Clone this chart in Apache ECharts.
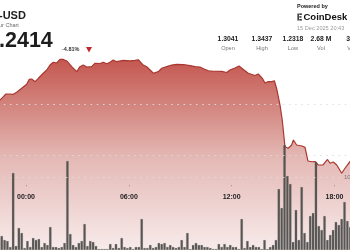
<!DOCTYPE html>
<html>
<head>
<meta charset="utf-8">
<script src="https://cdn.jsdelivr.net/npm/echarts@6/dist/echarts.min.js"></script>
<style>html,body{margin:0;padding:0;background:#fff;}#c{width:350px;height:250px;}</style>
</head>
<body>
<div id="c"></div>
<script>
// ---- data ----
// price line: time in hours since 00:00 (negative = previous day), price in USD
const priceTimes = [-1.63,-1.52,-1.32,-1.17,-0.97,-0.74,-0.54,-0.25,0.04,0.19,0.33,0.53,0.72,1.01,1.21,1.40,1.59,1.79,1.98,2.18,2.38,2.67,2.96,3.15,3.34,3.54,3.83,4.03,4.32,4.51,4.71,4.90,5.09,5.29,5.68,6.07,6.36,6.55,6.65,6.84,7.04,7.24,7.43,7.53,7.72,7.92,8.21,8.50,8.79,9.18,9.57,9.86,10.15,10.39,10.64,10.93,11.42,11.71,11.90,12.19,12.43,12.68,12.97,13.36,13.55,13.79,13.94,14.14,14.34,14.49,14.63,14.82,14.95,15.11,15.30,15.50,15.60,15.79,16.09,16.28,16.45,16.69,16.86,17.05,17.33,17.59,17.74,17.93,18.13,18.42,18.61,18.90,19.08];
const priceValues = [1.3020,1.3023,1.3072,1.3098,1.3098,1.3095,1.3115,1.3154,1.3193,1.3242,1.3245,1.3219,1.3252,1.3301,1.3333,1.3382,1.3409,1.3402,1.3437,1.3437,1.3422,1.3366,1.3317,1.3366,1.3382,1.3363,1.3366,1.3399,1.3397,1.3409,1.3395,1.3409,1.3431,1.3415,1.3428,1.3422,1.3428,1.3434,1.3415,1.3382,1.3366,1.3333,1.3301,1.3284,1.3317,1.3350,1.3366,1.3382,1.3389,1.3387,1.3377,1.3366,1.3363,1.3343,1.3326,1.3321,1.3319,1.3309,1.3333,1.3353,1.3373,1.3338,1.3301,1.3279,1.3294,1.3252,1.3206,1.3219,1.3219,1.3228,1.3147,1.2990,1.2843,1.2581,1.2566,1.2598,1.2647,1.2598,1.2588,1.2575,1.2441,1.2434,1.2436,1.2402,1.2402,1.2456,1.2419,1.2431,1.2402,1.2321,1.2370,1.2434,1.2480];
// volume bars: 10-minute buckets, first bucket centred at -1h35m
const volFirstBucketHour = -1.5833;
const volBucketHours = 1 / 6;
const volValues = [
  12,14,10,9,3,77,4,22,17,2,
  9,3,12,10,11,3,7,5,23,3,
  3,2,3,7,89,16,5,3,7,9,
  26,4,9,8,4,1,1,1,1,6,
  2,6,2,12,3,2,3,1,3,3,
  31,2,2,5,2,3,7,6,7,3,
  5,3,2,3,10,3,17,1,5,7,
  5,5,3,3,2,1,1,6,3,6,
  3,5,3,3,1,31,2,9,3,5,
  3,3,1,10,1,3,5,10,61,42,
  105,74,66,8,40,10,63,17,8,34,
  37,88,24,20,34,10,15,20,28,25,
  31,48,29,23
];
const priceGridLevels = [1.25, 1.30];
const volGridLevels = [73];
const timeTickHours = [0, 6, 12, 18];
const sideLabel = '10';

// header texts
const pairTitle = '-USD';
const pairSubtitle = 'ur Chart';
const lastPrice = '.2414';
const changePct = '-4.81%';
const statValues = ['1.3041', '1.3437', '1.2318', '2.68 M', '3.'];
const statLabels = ['Open', 'High', 'Low', 'Vol', 'V'];
const statCenters = [228, 262, 293, 321, 349];

// ---- chart ----
const FONT = 'Liberation Sans, Arial, sans-serif';
const X_MIN = -6, X_MAX = 24;
const GL = -76.84, GR = -87.36;

const priceData = priceTimes.map((t, i) => [t, priceValues[i]]);
const volData = volValues.map((v, i) => [volFirstBucketHour + i * volBucketHours, v]);

const dotted = { color: '#dedede', width: 1, type: [1.6, 4.6], opacity: 0.9 };

const chart = echarts.init(document.getElementById('c'), null, { renderer: 'canvas' });

const graphics = [
  { type: 'text', x: -1, y: 16, style: { text: pairTitle, font: 'bold 11px ' + FONT, fill: '#1d1d1d', verticalAlign: 'middle' } },
  { type: 'text', x: -1, y: 25, style: { text: pairSubtitle, font: '5.5px ' + FONT, fill: '#6a6a6a', verticalAlign: 'middle' } },
  { type: 'text', x: -1, y: 41, style: { text: lastPrice, font: 'bold 21.5px ' + FONT, fill: '#1d1d1d', verticalAlign: 'middle' } },
  { type: 'text', x: 62, y: 49, style: { text: changePct, font: 'bold 5.5px ' + FONT, fill: '#333', verticalAlign: 'middle' } },
  { type: 'polygon', shape: { points: [[86, 47], [92, 47], [89, 52.5]] }, style: { fill: '#c1272d' } },
  { type: 'text', x: 297, y: 6, style: { text: 'Powered by', font: 'bold 5.5px ' + FONT, fill: '#222', verticalAlign: 'middle' } },
  { type: 'rect', shape: { x: 297.5, y: 13.5, width: 1.3, height: 7 }, style: { fill: '#111' } },
  { type: 'rect', shape: { x: 299.3, y: 13.5, width: 2.6, height: 1.3 }, style: { fill: '#111' } },
  { type: 'rect', shape: { x: 299.3, y: 16.3, width: 2.2, height: 1.3 }, style: { fill: '#111' } },
  { type: 'rect', shape: { x: 299.3, y: 19.2, width: 2.6, height: 1.3 }, style: { fill: '#111' } },
  { type: 'text', x: 303.5, y: 17, style: { text: 'CoinDesk I', font: 'bold 9.5px ' + FONT, fill: '#111', verticalAlign: 'middle' } },
  { type: 'text', x: 297, y: 28.5, style: { text: '15 Dec 2025 20:43', font: '5.6px ' + FONT, fill: '#9a9a9a', verticalAlign: 'middle' } },
  { type: 'text', x: 344, y: 177.5, z: 20, style: { text: sideLabel, font: '6px ' + FONT, fill: '#777', verticalAlign: 'middle' } }
];
statValues.forEach((s, i) => {
  graphics.push({ type: 'text', x: statCenters[i], y: 39, style: { text: s, font: 'bold 6.8px ' + FONT, fill: '#222', align: 'center', verticalAlign: 'middle' } });
  graphics.push({ type: 'text', x: statCenters[i], y: 48.5, style: { text: statLabels[i], font: '5.6px ' + FONT, fill: '#777', align: 'center', verticalAlign: 'middle' } });
});

const option = {
  animation: false,
  backgroundColor: '#ffffff',
  grid: [
    { left: GL, right: GR, top: 2, bottom: -7, outerBoundsMode: 'none', containLabel: false },
    { left: GL, right: GR, top: 100, bottom: 0, outerBoundsMode: 'none', containLabel: false },
    { left: GL, right: GR, top: 0, bottom: 65, outerBoundsMode: 'none', containLabel: false }
  ],
  xAxis: [
    { gridIndex: 0, type: 'value', min: X_MIN, max: X_MAX, show: false },
    { gridIndex: 1, type: 'value', min: X_MIN, max: X_MAX, show: false },
    { gridIndex: 2, type: 'value', min: X_MIN, max: X_MAX, interval: 6, z: 20,
      axisLine: { show: false },
      axisTick: { show: true, length: 1.2, lineStyle: { color: '#999', width: 1 } },
      splitLine: { show: false },
      axisLabel: { show: true, margin: 8.5, fontSize: 7, fontWeight: 'bold', color: '#222', fontFamily: FONT,
        formatter: v => timeTickHours.includes(v) ? String(v).padStart(2, '0') + ':00' : '' } }
  ],
  yAxis: [
    { gridIndex: 0, type: 'value', min: 1.15, max: 1.40, show: false, splitLine: { show: false } },
    { gridIndex: 1, type: 'value', min: 0, max: 150, show: false, splitLine: { show: false } },
    { gridIndex: 2, type: 'value', min: 0, max: 1, show: false, splitLine: { show: false } }
  ],
  graphic: graphics,
  series: [
    {
      type: 'line', xAxisIndex: 0, yAxisIndex: 0, data: priceData,
      showSymbol: false, symbol: 'none', smooth: false, z: 2,
      lineStyle: { color: '#a8372f', width: 1.2 },
      areaStyle: {
        origin: 'start', opacity: 1,
        color: new echarts.graphic.LinearGradient(0, 0, 0, 1, [
          { offset: 0, color: '#c4574f' },
          { offset: 0.5, color: '#e4b9b5' },
          { offset: 1, color: '#f9efef' }
        ])
      },
      markLine: { silent: true, symbol: 'none', label: { show: false }, lineStyle: dotted,
        data: priceGridLevels.map(v => ({ yAxis: v })) }
    },
    {
      type: 'bar', xAxisIndex: 1, yAxisIndex: 1, data: volData, barWidth: 2.5, z: 3,
      itemStyle: { color: 'rgba(70,70,68,0.9)', borderColor: 'rgba(140,140,138,0.6)', borderWidth: 0.3 },
      markLine: { silent: true, symbol: 'none', label: { show: false }, lineStyle: dotted,
        data: volGridLevels.map(v => ({ yAxis: v })) }
    }
  ]
};
chart.setOption(option);
</script>
</body>
</html>
